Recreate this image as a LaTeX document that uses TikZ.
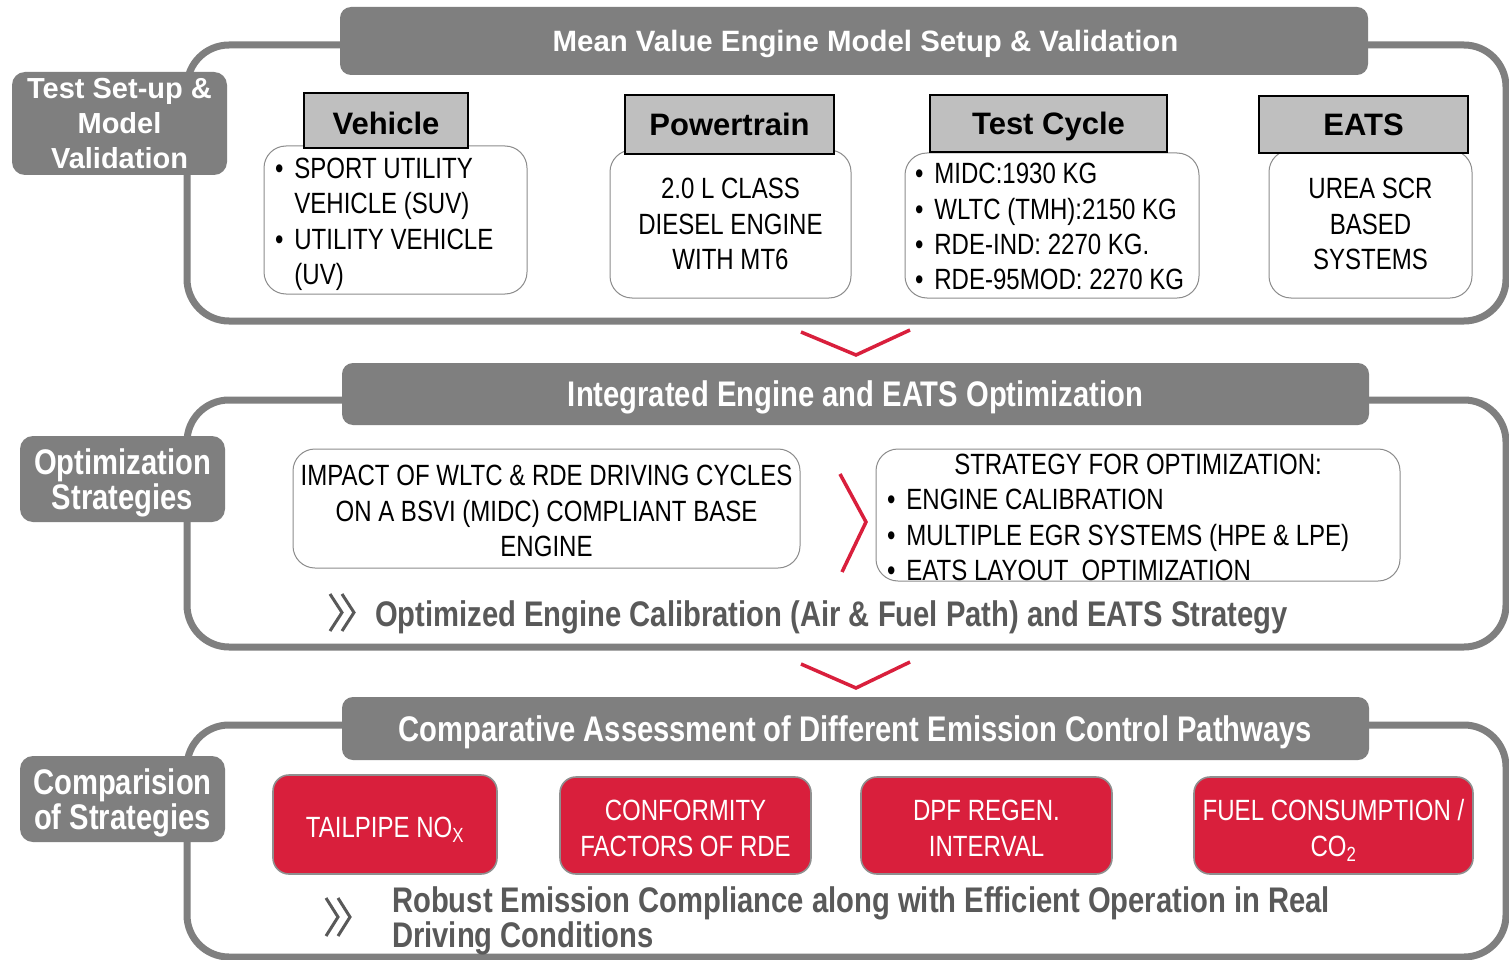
\documentclass[tikz,border=0pt]{standalone}
\usepackage{fontspec}
\setmainfont{Liberation Sans}
\newfontfamily\narrowfont[FakeStretch=0.82]{Liberation Sans}

\definecolor{bargray}{HTML}{7F7F7F}
\definecolor{framegray}{HTML}{7F7F7F}
\definecolor{headgray}{HTML}{BFBFBF}
\definecolor{cardline}{HTML}{8C8C8C}
\definecolor{cred}{HTML}{D91F3C}
\definecolor{redline}{HTML}{8F8F8F}
\definecolor{darktext}{HTML}{595959}

% bullet item and its continuation indent
\newcommand{\itembul}{\textbullet\hspace{11pt}}
\newcommand{\itemcont}{\hphantom{\itembul}}
% use the font's own word spaces inside fixed-width text blocks
\newcommand{\natsp}{\spaceskip=0pt\xspaceskip=0pt\relax}

\tikzset{
  frame/.style={draw=framegray, line width=7pt, rounded corners=42pt},
  bar/.style={fill=bargray, rounded corners=11pt, text=white, inner sep=0pt, text depth=0pt},
  toptitle/.style={bar, font=\bfseries\fontsize{29.4}{35}\selectfont},
  midtitle/.style={bar, font=\narrowfont\bfseries\fontsize{35.6}{35}\selectfont},
  sidelabel/.style={fill=bargray, rounded corners=13pt, text=white, align=center,
    inner sep=0pt, text depth=0pt},
  sidetop/.style={sidelabel, font=\bfseries\fontsize{29}{35}\selectfont},
  sidemid/.style={sidelabel, font=\narrowfont\bfseries\fontsize{35.6}{35}\selectfont},
  head/.style={fill=headgray, draw=black, line width=2pt, inner sep=0pt, text depth=0pt,
    font=\bfseries\fontsize{31}{35}\selectfont},
  card/.style={draw=cardline, fill=white, line width=1pt, rounded corners=22pt,
    inner ysep=0pt, font=\narrowfont\fontsize{29.3}{35.4}\selectfont},
  listcard/.style={card, align=left},
  redcard/.style={fill=cred, draw=redline, line width=1.6pt, rounded corners=16pt,
    text=white, align=center, inner sep=0pt, text depth=0pt,
    font=\narrowfont\fontsize{29.3}{35.3}\selectfont},
  chev/.style={draw=cred, line width=3.5pt},
  dblmark/.style={draw=darktext, line width=3pt},
  outcome/.style={text=darktext, inner sep=0pt,
    font=\narrowfont\bfseries\fontsize{35.6}{35}\selectfont},
}

\begin{document}
\begin{tikzpicture}[x=1pt, y=-1pt]
\useasboundingbox (0,0) rectangle (1509,960);
\fill[white] (0,0) rectangle (1509,960);
\clip (0,0) rectangle (1509,960);

% ---------- stage 1: test set-up and model validation ----------
\draw[frame] (187,45) rectangle (1506,321);
\node[toptitle, minimum width=1028pt, minimum height=68pt] (t1) at (854,41)
  {\hspace*{23pt}Mean Value Engine Model Setup \& Validation};
\node[sidetop, minimum width=215pt, minimum height=103pt] (l1) at (119.5,123.5)
  {Test Set-up \&\\Model\\Validation};

\node[listcard, text width=241pt, inner xsep=11pt, minimum height=148pt] (vehB) at (395.5,220)
  {\natsp\rule{0pt}{29pt}\itembul SPORT UTILITY\\\itemcont VEHICLE (SUV)\\\itembul UTILITY VEHICLE\\\itemcont (UV)};
\node[head, minimum width=164pt, minimum height=55pt] (vehH) at (386,120.5) {\rule{0pt}{27.5pt}Vehicle};

\node[card, minimum width=241pt, minimum height=148pt, align=center] (ptB) at (730.5,224)
  {2.0 L CLASS\\DIESEL ENGINE\\WITH MT6};
\node[head, minimum width=209pt, minimum height=59pt] (ptH) at (729.5,124.5) {Powertrain};

\node[listcard, text width=274pt, inner xsep=10pt, minimum height=145pt] (tcB) at (1052,225.5)
  {\natsp\rule{0pt}{23pt}\itembul MIDC:1930 KG\\\itembul WLTC (TMH):2150 KG\\\itembul RDE-IND: 2270 KG.\\\itembul RDE-95MOD: 2270 KG};
\node[head, minimum width=237pt, minimum height=57pt] (tcH) at (1048.5,123.5) {Test Cycle};

\node[card, minimum width=203pt, minimum height=148pt, align=center] (eaB) at (1370.5,224)
  {UREA SCR\\BASED\\SYSTEMS};
\node[head, minimum width=209pt, minimum height=57pt] (eaH) at (1363.5,124.5) {EATS};

\draw[chev] (801,332) -- (856,355) -- (910,330);

% ---------- stage 2: optimization strategies ----------
\draw[frame] (187,400) rectangle (1506,647);
\node[midtitle, minimum width=1027pt, minimum height=62pt] (t2) at (855.5,394)
  {Integrated Engine and EATS Optimization};
\node[sidemid, minimum width=205pt, minimum height=86pt] (l2) at (122.5,479)
  {Optimization\\Strategies};

\node[card, minimum width=507pt, minimum height=119pt, align=center] (imp) at (546.5,508.5)
  {\rule{0pt}{25.5pt}IMPACT OF WLTC \& RDE DRIVING CYCLES\\ON A BSVI (MIDC) COMPLIANT BASE\\ENGINE};
\node[listcard, text width=502pt, inner xsep=11pt, minimum height=132pt] (strat) at (1138,515)
  {\natsp\rule{0pt}{25.5pt}\makebox[502pt]{STRATEGY FOR OPTIMIZATION:}\\\itembul ENGINE CALIBRATION\\\itembul MULTIPLE EGR SYSTEMS (HPE \& LPE)\\\itembul EATS LAYOUT\ \ OPTIMIZATION};
\draw[chev] (840,474) -- (866,522) -- (842,572);

% double chevron before the outcome line
\draw[dblmark] (330,594) -- (342,612.5) -- (330,631);
\draw[dblmark] (342,594) -- (354,612.5) -- (342,631);
\node[outcome, anchor=base west] (o2) at (375,626.7)
  {Optimized Engine Calibration (Air \& Fuel Path) and EATS Strategy};

\draw[chev] (801,664) -- (856,688) -- (910,662);

% ---------- stage 3: comparison of strategies ----------
\draw[frame] (187,725) rectangle (1506,957);
\node[midtitle, minimum width=1027pt, minimum height=63pt] (t3) at (855.5,728.5)
  {Comparative Assessment of Different Emission Control Pathways};
\node[sidemid, minimum width=205pt, minimum height=86pt] (l3) at (122.5,799)
  {Comparision\\of Strategies};

\node[redcard, minimum width=224pt, minimum height=99pt] (nox) at (385,824.5)
  {\rule{0pt}{25pt}TAILPIPE NO\textsubscript{X}};
\node[redcard, minimum width=251pt, minimum height=97pt] (cf) at (685.5,825.5)
  {\rule{0pt}{26pt}CONFORMITY\\FACTORS OF RDE};
\node[redcard, minimum width=251pt, minimum height=97pt] (dpf) at (986.5,825.5)
  {\rule{0pt}{26pt}DPF REGEN.\\INTERVAL};
\node[redcard, minimum width=279pt, minimum height=97pt] (fc) at (1333.5,825.5)
  {\rule{0pt}{26pt}FUEL CONSUMPTION /\\CO\textsubscript{2}};

% double chevron before the closing statement
\draw[dblmark] (326,898) -- (338,917) -- (326,936);
\draw[dblmark] (338,898) -- (350,917) -- (338,936);
\node[outcome, anchor=base west, text width=1000pt, align=left] (o3) at (392,912.7)
  {\natsp Robust Emission Compliance along with Efficient Operation in Real\\Driving Conditions};
\end{tikzpicture}
\end{document}
